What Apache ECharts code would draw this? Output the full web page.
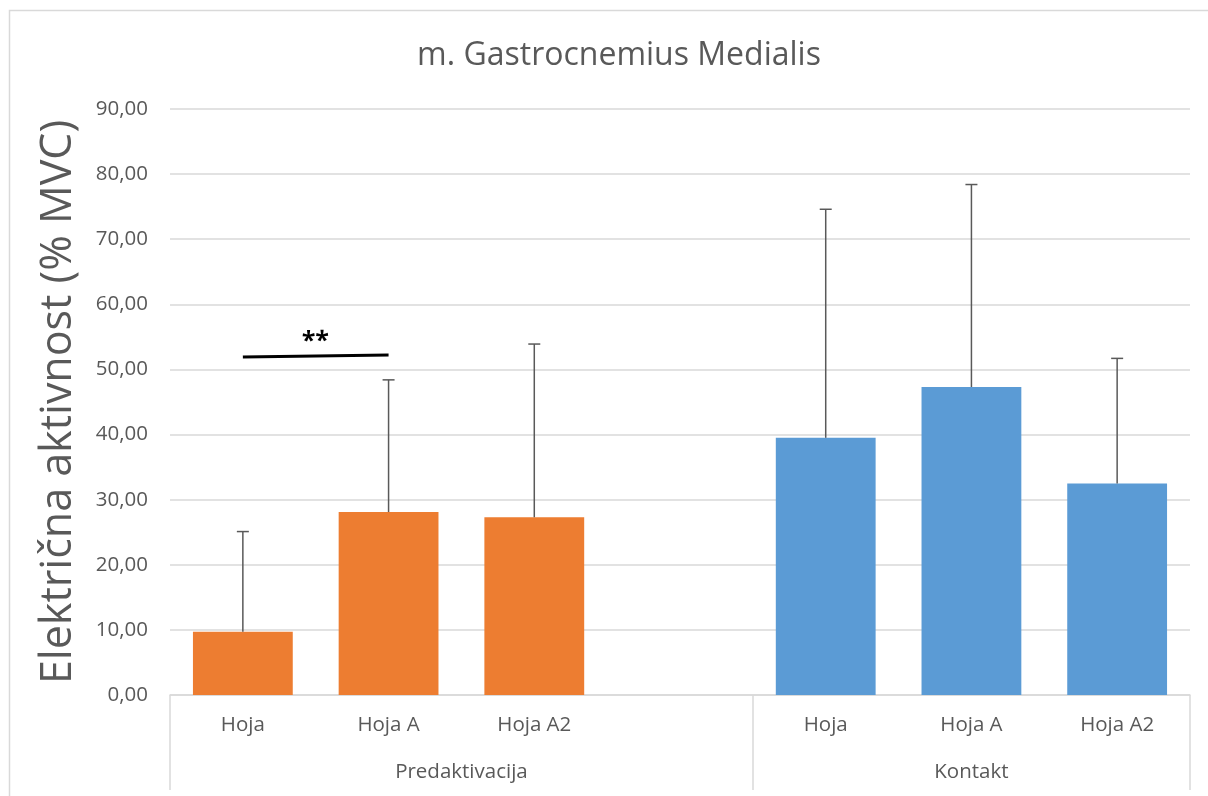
<!DOCTYPE html>
<html>
<head>
<meta charset="utf-8">
<script src="https://cdn.jsdelivr.net/npm/echarts@6/dist/echarts.min.js"></script>
<style>
  html, body { margin: 0; padding: 0; background: #ffffff; }
  #chart { width: 1208px; height: 796px; }
</style>
</head>
<body>
<div id="chart"></div>
<script>
// Category slots: three walking conditions per phase, with an empty slot separating the phases
const categories = ['Hoja', 'Hoja A', 'Hoja A2', '', 'Hoja', 'Hoja A', 'Hoja A2'];
const groups = ['Predaktivacija', 'Kontakt'];
// Mean activity (% MVC)
const predaktivacija = [9.7, 28.1, 27.3, '-', '-', '-', '-'];
const kontakt = ['-', '-', '-', '-', 39.5, 47.3, 32.5];
// Upper end of the error bar (mean + SD)
const upper = [25.1, 48.4, 53.9, null, 74.6, 78.4, 51.7];
// Significance bracket between Hoja and Hoja A (Predaktivacija)
const sigFrom = [-0.055, 51.9];
const sigTo = [1, 52.2];
const sigLabel = '**';
// Value axis
const yMin = 0, yMax = 90, yStep = 10;

const means = categories.map((c, i) => predaktivacija[i] !== '-' ? predaktivacija[i] : kontakt[i]);
const errData = [];
upper.forEach((u, i) => { if (u !== null) errData.push([i, means[i], u]); });

// Group axis: half-slot points so group labels can sit between categories
const halfPoints = [];
for (let i = 0; i <= categories.length * 2; i++) halfPoints.push(String(i));
const groupLabelAt = { 4: groups[0], 11: groups[1] };
const groupTickAt = [0, 8, 14];

const textColor = '#595959';
const lineColor = '#d9d9d9';
const font = '"Open Sans", "Noto Sans", sans-serif';

const chart = echarts.init(document.getElementById('chart'), null, { renderer: 'canvas' });
chart.setOption({
  animation: false,
  backgroundColor: '#ffffff',
  title: {
    text: 'm. Gastrocnemius Medialis',
    left: 614,
    top: 35,
    textAlign: 'center',
    textStyle: { color: textColor, fontFamily: font, fontSize: 32, fontWeight: 'normal' }
  },
  graphic: [{
    type: 'rect',
    shape: { x: 9.5, y: 10.5, width: 1400, height: 1000 },
    style: { fill: 'none', stroke: lineColor, lineWidth: 1.5 },
    silent: true
  }],
  grid: { left: 170, right: 18, top: 109, bottom: 101, containLabel: false },
  xAxis: [{
    type: 'category',
    data: categories,
    position: 'bottom',
    axisLine: { show: true, lineStyle: { color: lineColor, width: 1.5 } },
    axisTick: { show: false },
    axisLabel: { color: textColor, fontFamily: font, fontSize: 20.5, margin: 20, interval: 0 },
    splitLine: { show: false }
  }, {
    type: 'category',
    data: halfPoints,
    boundaryGap: false,
    position: 'bottom',
    axisLine: { show: false },
    axisTick: {
      show: true,
      length: 95,
      interval: (idx) => groupTickAt.indexOf(idx) >= 0,
      lineStyle: { color: lineColor, width: 1.5 }
    },
    axisLabel: {
      color: textColor, fontFamily: font, fontSize: 20.5, margin: 67,
      interval: (idx) => groupLabelAt[idx] !== undefined,
      formatter: (v, idx) => groupLabelAt[idx] || ''
    },
    splitLine: { show: false }
  }],
  yAxis: {
    type: 'value',
    min: yMin,
    max: yMax,
    interval: yStep,
    name: 'Električna aktivnost (% MVC)',
    nameLocation: 'middle',
    nameGap: 90,
    nameRotate: 90,
    nameTextStyle: { color: textColor, fontFamily: font, fontSize: 43 },
    axisLine: { show: false },
    axisTick: { show: false },
    axisLabel: {
      color: textColor, fontFamily: font, fontSize: 20.5, margin: 22,
      formatter: (v) => v.toFixed(2).replace('.', ',')
    },
    splitLine: { show: true, lineStyle: { color: lineColor, width: 1.5 } }
  },
  series: [{
    name: groups[0],
    type: 'bar',
    stack: 'phase',
    data: predaktivacija,
    barWidth: '68.5%',
    itemStyle: { color: '#ED7D31' },
    markLine: {
      silent: true,
      symbol: 'none',
      lineStyle: { color: '#000000', width: 3, type: 'solid' },
      label: {
        show: true,
        position: 'middle',
        formatter: sigLabel,
        color: '#000000',
        fontFamily: font,
        fontSize: 25,
        fontWeight: 'bold',
        distance: 2
      },
      data: [[{ coord: sigFrom }, { coord: sigTo }]]
    }
  }, {
    name: groups[1],
    type: 'bar',
    stack: 'phase',
    data: kontakt,
    barWidth: '68.5%',
    itemStyle: { color: '#5B9BD5' }
  }, {
    name: 'SD',
    type: 'custom',
    data: errData,
    z: 10,
    renderItem: function (params, api) {
      const x = api.value(0);
      const base = api.coord([x, api.value(1)]);
      const top = api.coord([x, api.value(2)]);
      const cap = 6;
      const st = { stroke: '#595959', lineWidth: 1.5 };
      return {
        type: 'group',
        children: [
          { type: 'line', shape: { x1: base[0], y1: base[1], x2: top[0], y2: top[1] }, style: st },
          { type: 'line', shape: { x1: top[0] - cap, y1: top[1], x2: top[0] + cap, y2: top[1] }, style: st }
        ]
      };
    }
  }]
});
</script>
</body>
</html>
